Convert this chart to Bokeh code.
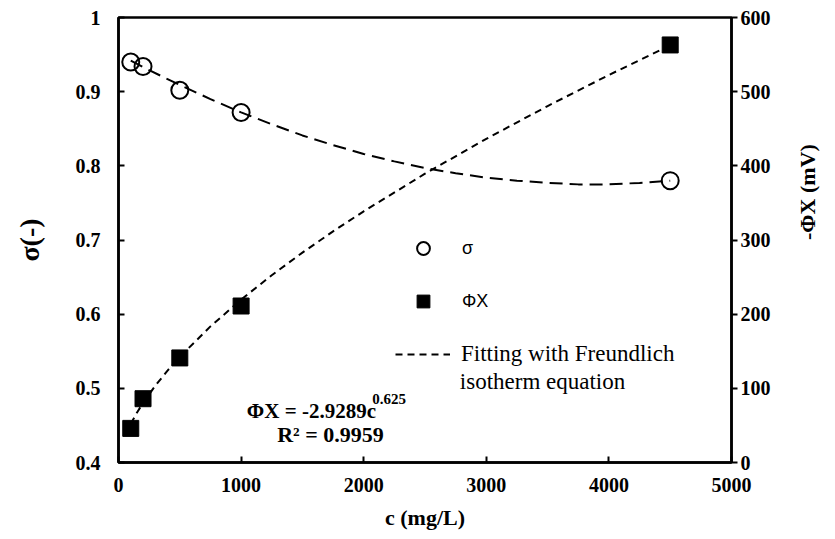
import math
from bokeh.plotting import figure
from bokeh.models import Range1d, LinearAxis, Legend, LegendItem, Label, FixedTicker
from bokeh.embed import file_html
from bokeh.resources import INLINE

# ---- data ----
c_pts = [100, 200, 500, 1000, 4500]
sigma = [0.940, 0.934, 0.902, 0.872, 0.780]
phix = [46, 86, 141, 211, 563]

c_phifit = [100, 150, 200, 300, 400, 500, 750, 1000, 1250, 1500, 1750, 2000,
            2500, 3000, 3500, 4000, 4500]
phix_fit = [52.1, 67.1, 80.3, 103.5, 123.9, 142.4, 183.5, 219.6, 252.5, 283.0,
            311.6, 338.7, 389.4, 436.4, 480.6, 522.5, 562.4]

c_sfit = [100, 250, 500, 750, 1000, 1250, 1500, 1750, 2000, 2250, 2500, 2750,
          3000, 3250, 3500, 3750, 4000, 4250, 4500]
sigma_fit = [0.942, 0.929, 0.909, 0.890, 0.872, 0.856, 0.841, 0.828, 0.816,
             0.806, 0.797, 0.790, 0.784, 0.780, 0.777, 0.775, 0.775, 0.777, 0.780]

x_ticks = [0, 1000, 2000, 3000, 4000, 5000]
y_ticks = [0.4, 0.5, 0.6, 0.7, 0.8, 0.9, 1.0]
y2_ticks = [0, 100, 200, 300, 400, 500, 600]

SERIF = "Liberation Serif"
SANS = "Liberation Sans"

p = figure(width=835, height=539, x_range=Range1d(0, 5000), y_range=Range1d(0.4, 1.0),
           output_backend="svg", toolbar_location=None,
           min_border_left=118, min_border_right=101, min_border_top=17, min_border_bottom=77)
p.extra_y_ranges = {"phi": Range1d(0, 600)}
p.xgrid.visible = False
p.ygrid.visible = False
p.outline_line_color = "black"
p.outline_line_width = 2.5
p.background_fill_color = "white"
p.border_fill_color = "white"

# fit lines
r_sfit = p.line(c_sfit, sigma_fit, line_color="black", line_width=2, line_dash="13 7")
r_pfit = p.line(c_phifit, phix_fit, y_range_name="phi", line_color="black",
                line_width=2, line_dash="7 5")

# markers
r_sig = p.scatter(c_pts, sigma, marker="circle", size=17, fill_color="white",
                  fill_alpha=0, line_color="black", line_width=2)
r_phi = p.scatter(c_pts, phix, y_range_name="phi", marker="square", size=16,
                  fill_color="black", line_color="black")

# axes
def style_axis(ax):
    ax.axis_line_width = 2.5
    ax.axis_line_color = "black"
    ax.major_tick_line_width = 2
    ax.major_tick_line_color = "black"
    ax.minor_tick_line_color = None
    ax.major_label_text_font = SERIF
    ax.major_label_text_font_style = "bold"
    ax.major_label_text_font_size = "20px"
    ax.major_label_text_color = "black"
    ax.axis_label_text_font = SERIF
    ax.axis_label_text_font_style = "bold"
    ax.axis_label_text_color = "black"

for ax in [p.xaxis[0], p.yaxis[0]]:
    style_axis(ax)
    ax.major_tick_in = 6
    ax.major_tick_out = 0

p.xaxis.ticker = FixedTicker(ticks=x_ticks)
p.xaxis.axis_label = "c (mg/L)"
p.xaxis.axis_label_text_font_size = "22px"
p.xaxis.major_label_standoff = 15
p.xaxis.axis_label_standoff = 10

p.yaxis.ticker = FixedTicker(ticks=y_ticks)
p.yaxis.major_label_overrides = {1: "1"}
p.yaxis.axis_label = "σ(-)"
p.yaxis.axis_label_text_font_size = "28px"
p.yaxis.major_label_standoff = 18
p.yaxis.axis_label_standoff = 28

ax2 = LinearAxis(y_range_name="phi", ticker=FixedTicker(ticks=y2_ticks))
style_axis(ax2)
ax2.major_tick_in = 0
ax2.major_tick_out = 6
ax2.major_label_standoff = 3
ax2.axis_label = "-ΦX (mV)"
ax2.axis_label_text_font_size = "22px"
ax2.axis_label_standoff = 34
ax2.axis_label_orientation = math.pi / 2
p.add_layout(ax2, "right")

# legends
legA = Legend(items=[LegendItem(label="σ", renderers=[r_sig]),
                     LegendItem(label="ΦX", renderers=[r_phi])],
              location=(289, 145), glyph_width=32, glyph_height=32, spacing=21,
              label_standoff=23, padding=0, margin=0,
              label_text_font=SANS, label_text_font_size="18px",
              label_text_color="black",
              border_line_alpha=0, background_fill_alpha=0)
legB = Legend(items=[LegendItem(label="Fitting with Freundlich", renderers=[r_pfit])],
              location=(277, 95), glyph_width=55, glyph_height=24,
              label_standoff=11, padding=0, margin=0,
              label_text_font=SERIF, label_text_font_size="23px",
              label_text_color="black",
              border_line_alpha=0, background_fill_alpha=0)
p.add_layout(legA)
p.add_layout(legB)

p.add_layout(Label(x=2784, y=0.5095, text="isotherm equation", text_font=SERIF,
                   text_font_size="23px", text_baseline="middle", text_align="left",
                   text_color="black"))

# equation
p.add_layout(Label(x=1047, y=0.4689, text="ΦX = -2.9289c", text_font=SERIF,
                   text_font_style="bold", text_font_size="21px", text_color="black",
                   text_baseline="middle", text_align="left"))
p.add_layout(Label(x=2070, y=0.4851, text="0.625", text_font=SERIF,
                   text_font_style="bold", text_font_size="15px", text_color="black",
                   text_baseline="middle", text_align="left"))
p.add_layout(Label(x=1729, y=0.4378, text="R² = 0.9959", text_font=SERIF,
                   text_font_style="bold", text_font_size="22px", text_color="black",
                   text_baseline="middle", text_align="center"))

open("out.html", "w").write(file_html(p, INLINE))
